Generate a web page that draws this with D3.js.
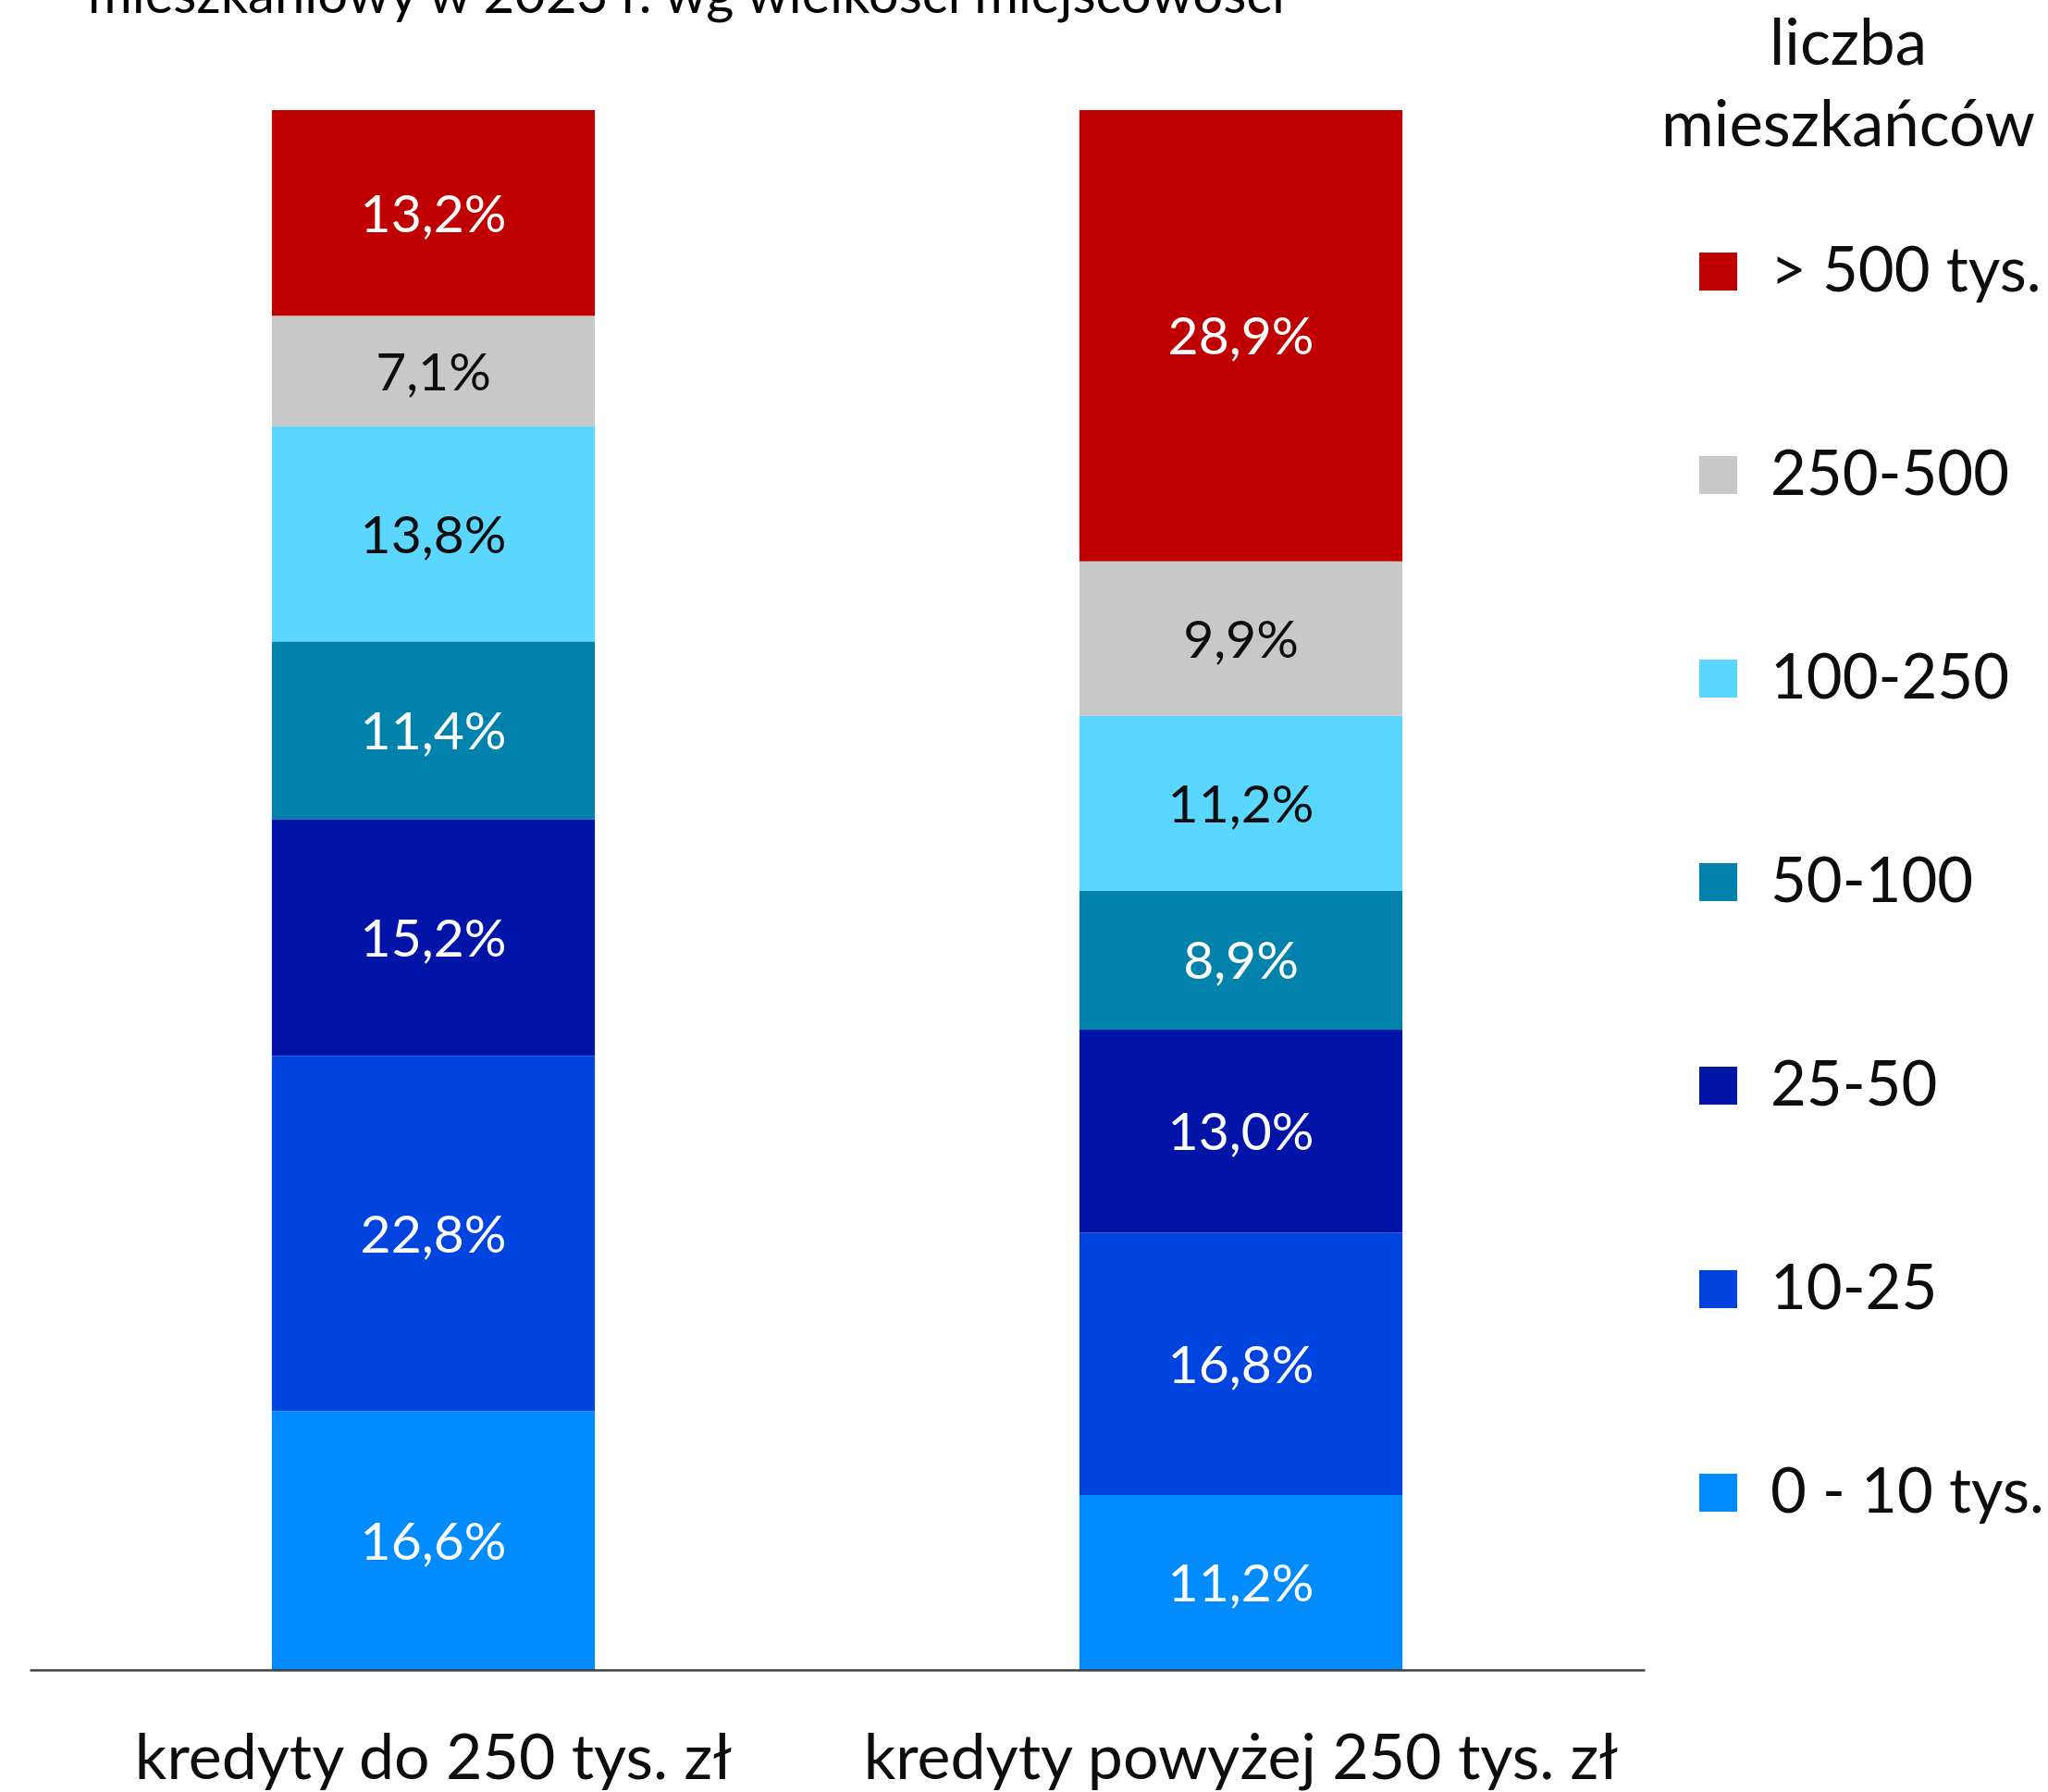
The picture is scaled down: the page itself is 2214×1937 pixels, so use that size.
<!DOCTYPE html>
<html lang="pl">
<head>
<meta charset="utf-8">
<title>kredyty wg wielkości miejscowości</title>
<script src="https://cdn.jsdelivr.net/npm/d3@7"></script>
<style>
  body { margin: 0; background: #fff; }
  svg { display: block; font-family: Lato, "Open Sans", sans-serif; }
  .lbl { font-size: 57px; text-anchor: middle; }
  .cat { font-size: 68px; fill: #0d0d0d; text-anchor: middle; }
  .leg { font-size: 67px; fill: #0d0d0d; }
  .leg-title { font-size: 69px; fill: #0d0d0d; text-anchor: middle; }
</style>
</head>
<body>
<div id="chart"></div>
<script>
// categories (x axis)
var categories = ["kredyty do 250 tys. zł", "kredyty powyżej 250 tys. zł"];

// population groups, bottom of the stack first
var groups = ["0 - 10 tys.", "10-25", "25-50", "50-100", "100-250", "250-500", "> 500 tys."];
var groupColors = ["#008BFF", "#0044E0", "#0014A8", "#0082AD", "#5BD7FF", "#C8C8C8", "#C00000"];
var labelColors = ["#fff", "#fff", "#fff", "#fff", "#0d0d0d", "#0d0d0d", "#fff"];

// shares in %, same order as groups
var sharesDo250 = [16.6, 22.8, 15.2, 11.4, 13.8, 7.1, 13.2];
var sharesPow250 = [11.2, 16.8, 13.0, 8.9, 11.2, 9.9, 28.9];

var titleLine = "mieszkaniowy w 2023 r. wg wielkości miejscowości";
var legendTitle = ["liczba", "mieszkańców"];

var W = 2214, H = 1937;

var svg = d3.select("#chart").append("svg")
    .attr("width", W)
    .attr("height", H);

// build table for d3.stack
var table = categories.map(function(c, i) {
  var row = {cat: c};
  var vals = i == 0 ? sharesDo250 : sharesPow250;
  groups.forEach(function(g, j) { row[g] = vals[j]; });
  return row;
});

var series = d3.stack()
    .keys(groups)
    .offset(d3.stackOffsetExpand)(table);

var x = d3.scaleBand()
    .domain(categories)
    .range([32, 1778])
    .paddingInner(0.6)
    .paddingOuter(0.3);

var y = d3.scaleLinear()
    .domain([0, 1])
    .range([1805, 119]);

var color = d3.scaleOrdinal().domain(groups).range(groupColors);
var txtColor = d3.scaleOrdinal().domain(groups).range(labelColors);

// bars
var layer = svg.append("g").selectAll("g")
    .data(series)
    .enter().append("g")
    .attr("fill", function(d) { return color(d.key); });

layer.selectAll("rect")
    .data(function(d) { return d; })
    .enter().append("rect")
    .attr("x", function(d) { return x(d.data.cat); })
    .attr("y", function(d) { return y(d[1]); })
    .attr("width", x.bandwidth())
    .attr("height", function(d) { return y(d[0]) - y(d[1]); });

// value labels
series.forEach(function(s) {
  svg.append("g").selectAll("text")
    .data(s)
    .enter().append("text")
    .attr("class", "lbl")
    .attr("fill", txtColor(s.key))
    .attr("x", function(d) { return x(d.data.cat) + x.bandwidth() / 2; })
    .attr("y", function(d) { return (y(d[0]) + y(d[1])) / 2; })
    .attr("dy", "0.36em")
    .text(function(d) { return d3.format(".1f")(d.data[s.key]).replace(".", ",") + "%"; });
});

// x axis
var xAxis = svg.append("g")
    .attr("transform", "translate(0," + y(0) + ")")
    .call(d3.axisBottom(x).tickSize(0).tickPadding(70));
xAxis.attr("font-size", null).attr("font-family", null);
xAxis.select(".domain").attr("stroke", "#404040").attr("stroke-width", 2.5);
xAxis.selectAll("text")
    .attr("class", "cat")
    .attr("fill", "#0d0d0d");

// title (top part cut off in the original)
svg.append("text")
    .attr("x", 742)
    .attr("y", 14)
    .attr("text-anchor", "middle")
    .attr("font-size", 58)
    .attr("fill", "#000")
    .text(titleLine);

// legend
svg.append("g").selectAll("text")
    .data(legendTitle)
    .enter().append("text")
    .attr("class", "leg-title")
    .attr("x", 1998)
    .attr("y", function(d, i) { return 70 + i * 88; })
    .text(function(d) { return d; });

var legendOrder = groups.slice().reverse();
var leg = svg.append("g").selectAll("g")
    .data(legendOrder)
    .enter().append("g")
    .attr("transform", function(d, i) { return "translate(1837," + (294 + i * 220) + ")"; });

leg.append("rect")
    .attr("y", -21)
    .attr("width", 41)
    .attr("height", 41)
    .attr("fill", function(d) { return color(d); });

leg.append("text")
    .attr("class", "leg")
    .attr("x", 77)
    .attr("y", 21)
    .text(function(d) { return d; });
</script>
</body>
</html>
